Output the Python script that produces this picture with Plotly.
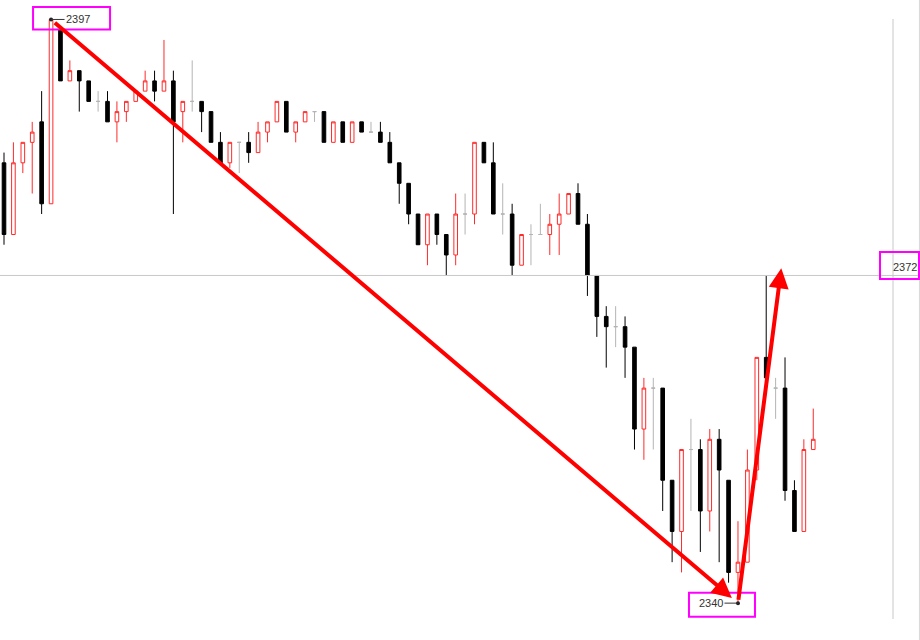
import plotly.graph_objects as go

# --- OHLC (un point par bougie)
OPEN = [2383, 2376, 2383, 2385, 2387, 2379, 2396, 2391, 2392, 2391,
        2389, 2389, 2387, 2388, 2389, 2390, 2391, 2390, 2391, 2388,
        2389, 2389, 2388, 2385, 2383, 2385, 2385, 2384, 2386, 2387,
        2389, 2386, 2387, 2388, 2388, 2385, 2387, 2385, 2387, 2386,
        2386, 2385, 2383, 2381, 2378, 2375, 2378, 2376, 2374, 2378,
        2378, 2385, 2383, 2378, 2378, 2373, 2376, 2376, 2376, 2377,
        2378, 2380, 2377, 2372, 2368, 2367, 2367, 2365, 2357, 2361,
        2361, 2352, 2347, 2355, 2355, 2349, 2356, 2352, 2343, 2344,
        2353, 2364, 2361, 2361, 2351, 2347, 2355]
HIGH = [2384, 2385, 2385, 2387, 2390, 2397, 2396, 2393, 2392, 2391,
        2390, 2390, 2389, 2389, 2390, 2392, 2392, 2395, 2392, 2389,
        2393, 2389, 2388, 2386, 2385, 2385, 2386, 2387, 2387, 2389,
        2389, 2387, 2388, 2388, 2388, 2387, 2387, 2387, 2387, 2387,
        2387, 2386, 2383, 2381, 2378, 2378, 2378, 2376, 2380, 2380,
        2385, 2385, 2385, 2381, 2379, 2376, 2377, 2379, 2378, 2380,
        2380, 2381, 2378, 2372, 2369, 2369, 2368, 2365, 2362, 2362,
        2361, 2352, 2355, 2358, 2356, 2357, 2357, 2352, 2348, 2355,
        2364, 2372, 2362, 2364, 2352, 2356, 2359]
LOW = [2375, 2376, 2382, 2380, 2378, 2379, 2391, 2391, 2388, 2389,
       2388, 2387, 2385, 2387, 2389, 2390, 2389, 2390, 2378, 2385,
       2388, 2386, 2385, 2383, 2382.5, 2382, 2383, 2384, 2385, 2387,
       2386, 2385, 2387, 2387, 2385, 2385, 2385, 2385, 2386, 2386,
       2385, 2383, 2379, 2377, 2375, 2373, 2375, 2372, 2373, 2376,
       2377, 2383, 2378, 2376, 2372, 2373, 2373, 2376, 2374, 2374,
       2378, 2377, 2370, 2366, 2363, 2365, 2362, 2355, 2354, 2355,
       2349, 2344, 2343, 2349, 2345, 2347, 2344, 2342, 2340, 2344,
       2352, 2362, 2358, 2350, 2347, 2347, 2355]
CLOSE = [2376, 2383, 2385, 2386, 2379, 2397, 2391, 2392, 2391, 2389,
         2389, 2387, 2388, 2389, 2390, 2391, 2390, 2391, 2387, 2389,
         2389, 2388, 2385, 2383, 2385, 2385, 2384, 2386, 2387, 2389,
         2386, 2387, 2388, 2388, 2385, 2387, 2385, 2387, 2386, 2386,
         2385, 2383, 2381, 2378, 2375, 2378, 2376, 2374, 2378, 2378,
         2385, 2383, 2378, 2378, 2373, 2376, 2376, 2376, 2377, 2378,
         2380, 2377, 2372, 2368, 2367, 2367, 2365, 2357, 2361, 2361,
         2352, 2347, 2355, 2355, 2349, 2356, 2353, 2343, 2344, 2353,
         2364, 2362, 2361, 2351, 2347, 2355, 2356]

LEVEL = 2372  # ligne horizontale / étiquette de droite

# --- Style
UP_COLOR = "#ff2a2a"
DOWN_COLOR = "#000000"
DOJI_COLOR = "#b4b4b4"
ARROW_COLOR = "#ff0000"
BOX_COLOR = "#ff00ff"
GRID_COLOR = "#c8c8c8"
TEXT_FONT = dict(family="Liberation Sans, Arial, sans-serif", size=11, color="#333333")

idx = list(range(len(OPEN)))
hi_i = max(idx, key=lambda i: HIGH[i])
lo_i = min(idx, key=lambda i: LOW[i])
reb_i = max(idx[lo_i:], key=lambda i: HIGH[i])


def _subset(kind):
    keep = []
    for i in idx:
        if kind == "up" and CLOSE[i] > OPEN[i]:
            keep.append(i)
        elif kind == "down" and CLOSE[i] < OPEN[i]:
            keep.append(i)
        elif kind == "doji" and CLOSE[i] == OPEN[i]:
            keep.append(i)
    return dict(
        x=keep,
        open=[OPEN[i] for i in keep], high=[HIGH[i] for i in keep],
        low=[LOW[i] for i in keep], close=[CLOSE[i] for i in keep],
    )


fig = go.Figure()
for kind, line_c, fill_c in [("up", UP_COLOR, "white"),
                             ("down", DOWN_COLOR, DOWN_COLOR),
                             ("doji", DOJI_COLOR, DOJI_COLOR)]:
    fig.add_trace(go.Candlestick(
        **_subset(kind), name=kind,
        increasing=dict(line=dict(color=line_c, width=1), fillcolor=fill_c),
        decreasing=dict(line=dict(color=line_c, width=1), fillcolor=fill_c),
        whiskerwidth=0, hoverinfo="skip",
    ))

# points marqués (plus haut / plus bas)
fig.add_trace(go.Scatter(
    x=[hi_i, lo_i], y=[HIGH[hi_i], LOW[lo_i]], mode="markers",
    marker=dict(color="#222222", size=4), hoverinfo="skip",
))

# lignes grises
fig.add_shape(type="line", xref="paper", x0=0, x1=1, yref="y", y0=LEVEL, y1=LEVEL,
              line=dict(color=GRID_COLOR, width=1))
fig.add_shape(type="line", xref="paper", x0=893 / 920, x1=893 / 920, yref="paper",
              y0=1 - 619 / 640, y1=1 - 19 / 640, line=dict(color=GRID_COLOR, width=1))
fig.add_shape(type="line", xref="paper", x0=0.9994, x1=0.9994, yref="paper",
              y0=0, y1=1, line=dict(color="#d8d8d8", width=1))

# flèches rouges
fig.add_annotation(x=lo_i, y=LOW[lo_i], ax=hi_i, ay=HIGH[hi_i], axref="x", ayref="y",
                   text="", showarrow=True, arrowhead=2, arrowsize=1, arrowwidth=4,
                   arrowcolor=ARROW_COLOR, standoff=8, startstandoff=3)
fig.add_annotation(x=reb_i + 1.6, y=LEVEL + 0.7, ax=lo_i, ay=LOW[lo_i], axref="x", ayref="y",
                   text="", showarrow=True, arrowhead=2, arrowsize=1, arrowwidth=4,
                   arrowcolor=ARROW_COLOR, standoff=0, startstandoff=2)

# étiquettes
fig.add_annotation(x=hi_i, y=HIGH[hi_i], text=str(HIGH[hi_i]), showarrow=True,
                   ax=27, ay=0, arrowhead=0, arrowwidth=1, arrowcolor="#333333",
                   font=TEXT_FONT)
fig.add_annotation(x=lo_i, y=LOW[lo_i], text=str(LOW[lo_i]), showarrow=True,
                   ax=-27, ay=0, arrowhead=0, arrowwidth=1, arrowcolor="#333333",
                   font=TEXT_FONT)
fig.add_annotation(xref="paper", x=1, xanchor="right", xshift=-1, y=LEVEL, yanchor="middle",
                   yshift=8, text=str(LEVEL), showarrow=False, font=TEXT_FONT)

# cadres magenta
box = dict(type="rect", line=dict(color=BOX_COLOR, width=2), fillcolor="rgba(0,0,0,0)",
           xsizemode="pixel", ysizemode="pixel")
fig.add_shape(**box, xref="x", xanchor=hi_i, x0=-18, x1=59,
              yref="y", yanchor=HIGH[hi_i], y0=-10, y1=12.5)
fig.add_shape(**box, xref="x", xanchor=lo_i, x0=-49, x1=17,
              yref="y", yanchor=LOW[lo_i], y0=-13.5, y1=10.5)
fig.add_shape(**box, xref="paper", xanchor=1, x0=-40, x1=-1,
              yref="y", yanchor=LEVEL, y0=-3.5, y1=23.5)

fig.update_layout(
    width=920, height=640,
    margin=dict(l=0, r=0, t=0, b=0),
    paper_bgcolor="white", plot_bgcolor="white",
    showlegend=False, boxgap=0.45,
)
fig.update_xaxes(visible=False, range=[-4 / 9.41, 916 / 9.41], rangeslider_visible=False)
fig.update_yaxes(visible=False, range=[2336.40, 2398.90])

# la page a une marge de 8px par défaut : on la retire pour coller au cadre
fig.write_html("out.html", config={"displayModeBar": False},
               post_script="document.body.style.margin='0px';")
